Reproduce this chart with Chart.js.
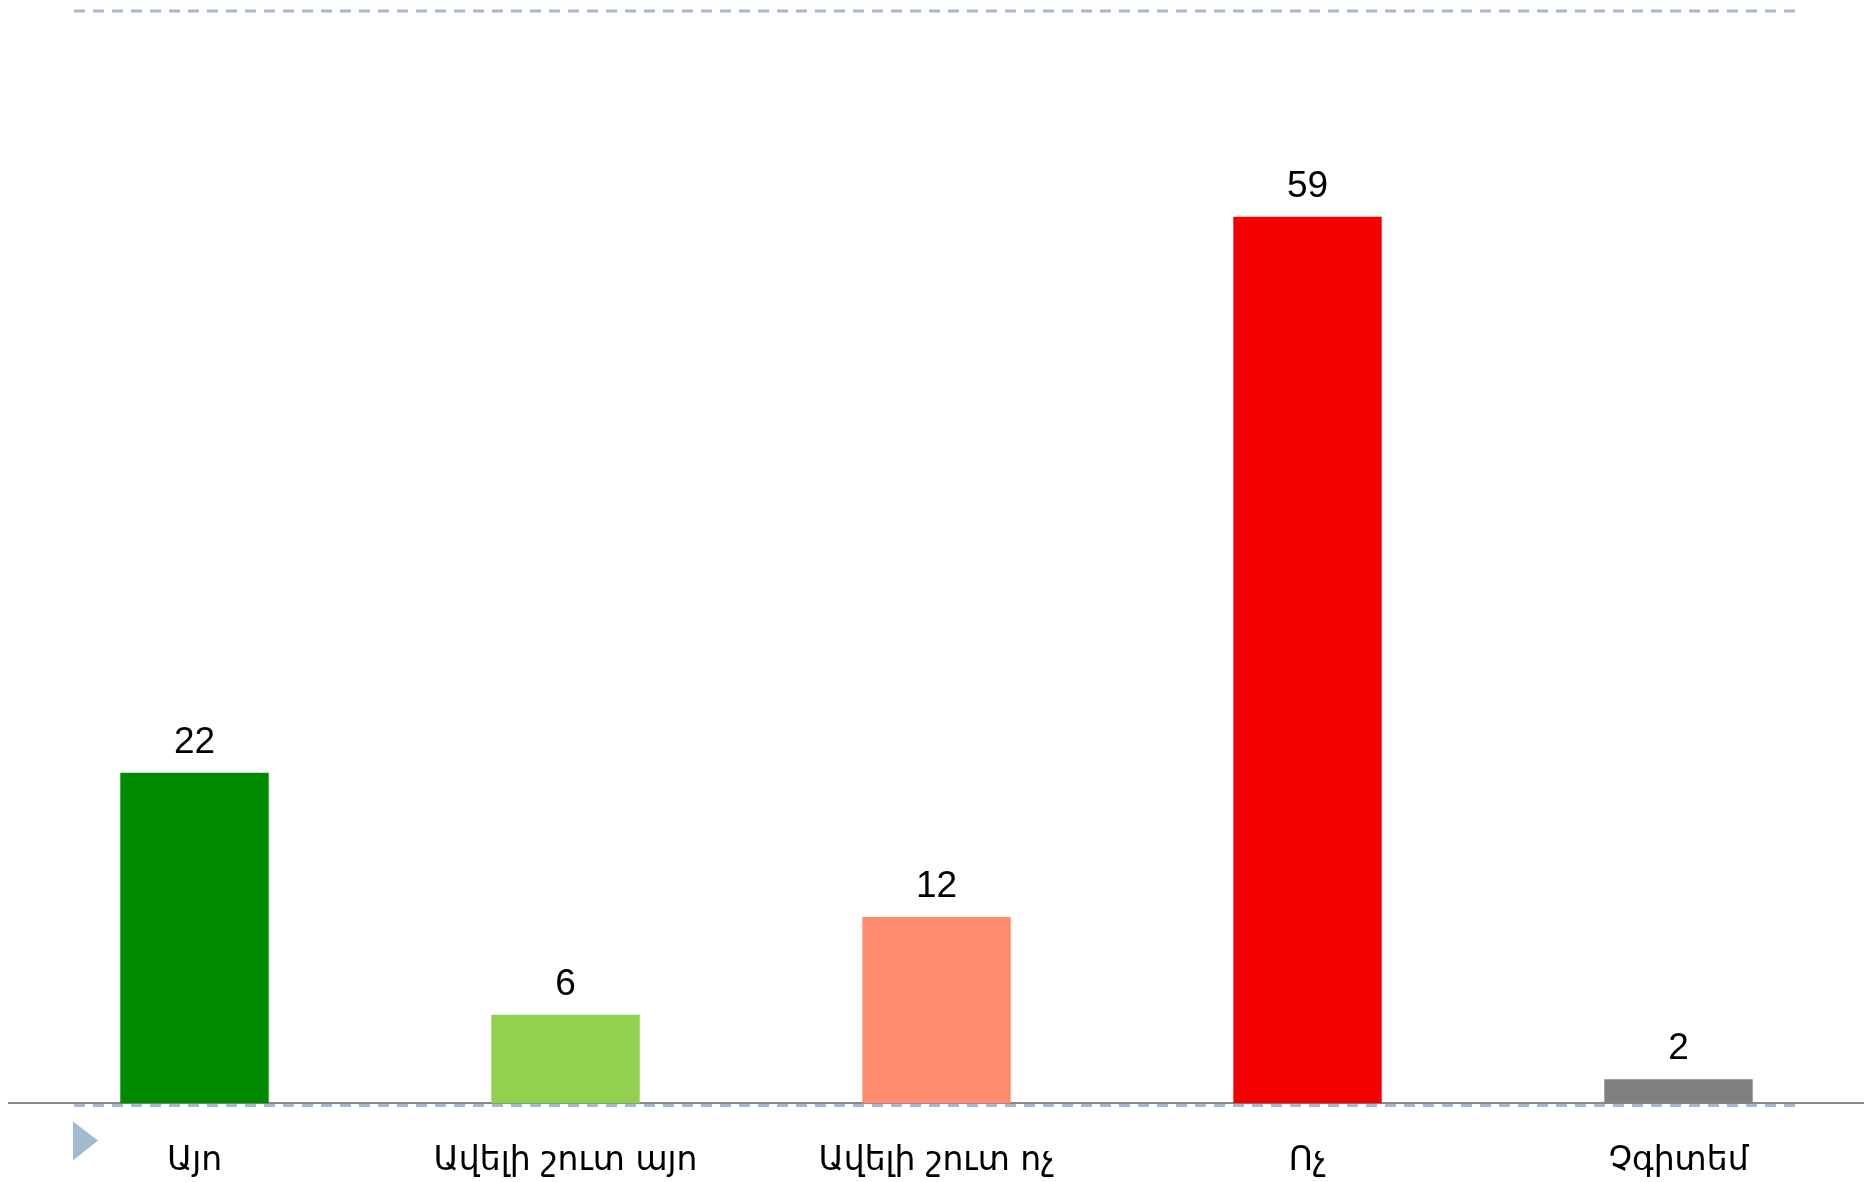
<!DOCTYPE html>
<html>
<head>
<meta charset="utf-8">
<script src="https://cdn.jsdelivr.net/npm/chart.js@4.4.0/dist/chart.umd.min.js"></script>
<style>
    html, body { margin: 0; padding: 0; background: #fff; }
    #wrap { width: 1864px; height: 1182px; position: relative; }
</style>
</head>
<body>
<div id="wrap"><canvas id="answersChart"></canvas></div>
<script>
const categories = ["Այո", "Ավելի շուտ այո", "Ավելի շուտ ոչ", "Ոչ", "Չգիտեմ"];
const percentValues = [22, 5.9, 12.4, 59, 1.6];
const valueLabels = ["22", "6", "12", "59", "2"];
const barColors = ["#008a00", "#92d050", "#ff8b6f", "#f50000", "#808080"];

// dashed lines, the small triangle and the numbers over the bars
const decorPlugin = {
    id: "decor",
    beforeDatasetsDraw(chart) {
        const ctx = chart.ctx;
        const area = chart.chartArea;
        ctx.save();
        ctx.strokeStyle = "#a3b9d1";
        ctx.lineWidth = 3;
        ctx.setLineDash([11, 8]);
        ctx.beginPath();
        ctx.moveTo(74, area.top);
        ctx.lineTo(1803, area.top);
        ctx.moveTo(74, area.bottom + 2);
        ctx.lineTo(1803, area.bottom + 2);
        ctx.stroke();
        ctx.setLineDash([]);
        ctx.fillStyle = "#a3b9d1";
        ctx.beginPath();
        ctx.moveTo(73, area.bottom + 18);
        ctx.lineTo(98, area.bottom + 37);
        ctx.lineTo(73, area.bottom + 57);
        ctx.closePath();
        ctx.fill();
        ctx.restore();
    },
    afterDatasetsDraw(chart) {
        const ctx = chart.ctx;
        const meta = chart.getDatasetMeta(0);
        ctx.save();
        ctx.fillStyle = "#000";
        ctx.font = "37px 'Liberation Sans', Arial, sans-serif";
        ctx.textAlign = "center";
        ctx.textBaseline = "alphabetic";
        meta.data.forEach((bar, i) => {
            ctx.fillText(valueLabels[i], bar.x, bar.y - 20);
        });
        ctx.restore();
    }
};

new Chart(document.getElementById("answersChart"), {
    type: "bar",
    data: {
        labels: categories,
        datasets: [{
            data: percentValues,
            backgroundColor: barColors,
            barPercentage: 0.8,
            categoryPercentage: 0.5
        }]
    },
    options: {
        responsive: true,
        maintainAspectRatio: false,
        animation: false,
        layout: { padding: { left: 9, right: 0, top: 11, bottom: -37 } },
        plugins: {
            legend: { display: false },
            tooltip: { enabled: false }
        },
        scales: {
            x: {
                grid: { display: false, drawTicks: false },
                border: { display: true, color: "#888888", width: 2 },
                ticks: {
                    color: "#000",
                    padding: 38,
                    font: { family: "'DejaVu Sans', sans-serif", size: 33 }
                }
            },
            y: {
                display: false,
                min: 0,
                max: 72.7
            }
        }
    },
    plugins: [decorPlugin]
});
</script>
</body>
</html>
